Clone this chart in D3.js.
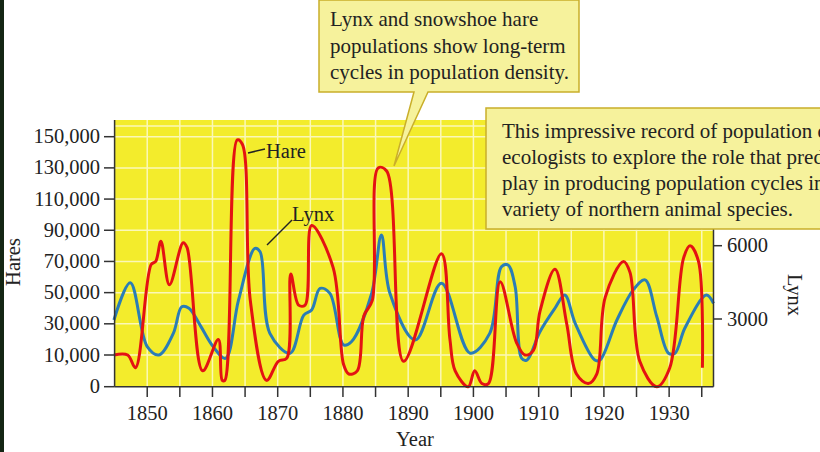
<!DOCTYPE html>
<html><head><meta charset="utf-8">
<script src="https://cdn.jsdelivr.net/npm/d3@7"></script>
<style>body{margin:0;background:#fff}svg{display:block}</style>
</head><body><svg width="820" height="452"></svg>
<script>
// hare population (thousands) by year
const hareYears = [1844.9,1847,1848.2,1850.6,1851.3,1852.1,1853.4,1855.5,1856.1,1858.5,1860.9,1861.5,1861.9,1863.8,1864.6,1865.8,1868.3,1870.1,1871.4,1872,1873.2,1874.2,1875.2,1878.5,1880.1,1880.9,1882.2,1883.2,1884.5,1885.4,1886.7,1889.3,1895.1,1896.4,1897.2,1899.2,1900.2,1901.3,1902.3,1904.1,1906.6,1907.9,1909.2,1910.2,1912.5,1914.3,1915.8,1917.6,1918.9,1920.2,1923,1924,1925.5,1928.1,1930.1,1932.2,1933.2,1934.5,1935.1];
const hareValues = [10,10,6,68,70,83,55,82,79,5,20,2,2,148,145,45,2,8,9,62,42,42,93,66,7,4,5,35,45,130,128,8,75,20,5,0,5,1,1,57,18,10,13,38,65,30,4,1,4,47,70,63,8,0,6,72,80,70,6];
// lynx population by year
const lynxYears = [1844.9,1847.4,1850,1851.8,1854,1855.3,1856.4,1858.1,1860.1,1862,1864,1866.5,1867.3,1868.8,1871.9,1874,1875.2,1876.5,1878,1880.1,1881.3,1884.4,1885.9,1887.2,1891.1,1895.1,1899.5,1902.5,1904.3,1905.3,1906.4,1907.4,1908.2,1910.2,1912.5,1914.0,1915.6,1918.6,1919.4,1922,1924.5,1926.3,1928.1,1929.9,1930.9,1932.4,1935.7,1936.8];
const lynxValues = [2960,4480,1870,1530,2410,3500,3440,2750,1870,1390,3780,5890,5750,2410,1600,3160,3370,4250,4050,1940,2070,4050,6440,4050,2140,4460,1600,2410,5140,5210,4320,1390,1320,2480,3440,3980,2820,1320,1320,2960,4190,4600,3100,1600,1600,2620,3980,3640];
const hareTicks = [0,10,30,50,70,90,110,130,150];
const lynxTicks = [3000,6000];
const yearTicks = d3.range(1845, 1940, 5);
const note1 = ["Lynx and snowshoe hare", "populations show long-term", "cycles in population density."];
const note2 = ["This impressive record of population data has allowed", "ecologists to explore the role that predators may",
  "play in producing population cycles in a", "variety of northern animal species."];

const svg = d3.select("svg");
const x = d3.scaleLinear().domain([1845, 1936.8]).range([114.6, 713.5]);
// the left axis in the figure is uneven: 0 -> 10,000 takes the same step as 20,000
const yH = d3.scaleLinear().domain([0, 10, 150]).range([386.7, 355, 136.7]);
const yL = d3.scaleLinear().domain([0, 6000]).range([392.3, 245.7]);

svg.append("rect").attr("x", 0).attr("y", 0).attr("width", 4).attr("height", 452).attr("fill", "#142614");

// plot area
svg.append("rect").attr("x", 114.6).attr("y", 120).attr("width", 599).attr("height", 266.7).attr("fill", "#f3ec2c");
const grid = svg.append("g").attr("stroke", "#fbf8b8").attr("stroke-width", 1.5);
grid.selectAll("line.h").data(hareTicks.slice(1)).join("line")
  .attr("x1", 114.6).attr("x2", 713.5).attr("y1", d => yH(d)).attr("y2", d => yH(d));
grid.selectAll("line.v").data(yearTicks.slice(1)).join("line")
  .attr("x1", d => x(d)).attr("x2", d => x(d)).attr("y1", 120).attr("y2", 386.7);
grid.append("line").attr("x1", 114.6).attr("x2", 713.5).attr("y1", 126).attr("y2", 126);

const line = (xs, ys, yscale) => d3.line().x((d, i) => x(xs[i])).y(d => yscale(d)).curve(d3.curveCatmullRom.alpha(0.5))(ys);
svg.append("path").attr("d", line(lynxYears, lynxValues, yL)).attr("fill", "none").attr("stroke", "#2a7db6").attr("stroke-width", 3);
svg.append("path").attr("d", line(hareYears, hareValues, yH)).attr("fill", "none").attr("stroke", "#e41212").attr("stroke-width", 3);

// axes
const axisG = svg.append("g").attr("stroke", "#333").attr("stroke-width", 1.5);
axisG.append("line").attr("x1", 114.6).attr("x2", 114.6).attr("y1", 120).attr("y2", 386.7);
axisG.append("line").attr("x1", 114.6).attr("x2", 713.5).attr("y1", 386.7).attr("y2", 386.7);
axisG.append("line").attr("x1", 713.5).attr("x2", 713.5).attr("y1", 225).attr("y2", 386.7);
axisG.selectAll("line.ht").data(hareTicks).join("line").attr("x1", 104).attr("x2", 114.6).attr("y1", d => yH(d)).attr("y2", d => yH(d));
axisG.selectAll("line.xt").data(yearTicks.slice(1)).join("line").attr("x1", d => x(d)).attr("x2", d => x(d)).attr("y1", 386.7).attr("y2", 397);
axisG.selectAll("line.lt").data(lynxTicks).join("line").attr("x1", 713.5).attr("x2", 722).attr("y1", d => yL(d)).attr("y2", d => yL(d));

// callouts
const boxFill = "#f6f29c", boxStroke = "#c9ae2a";
svg.append("path").attr("d", "M319,0 L579,0 L579,92 L428,92 L394,166 L414,92 L319,92 Z")
  .attr("fill", boxFill).attr("stroke", boxStroke).attr("stroke-width", 1.5);
svg.append("rect").attr("x", 486).attr("y", 108).attr("width", 340).attr("height", 121)
  .attr("fill", boxFill).attr("stroke", boxStroke).attr("stroke-width", 1.5);

const txt = svg.append("g").attr("fill", "#222").attr("font-size", 20.5)
  .attr("font-family", "'Liberation Serif', 'DejaVu Serif', serif");
txt.selectAll("text.h").data(hareTicks).join("text").attr("x", 100).attr("y", d => yH(d) + 6.5).attr("text-anchor", "end")
  .text(d => d3.format(",")(d * 1000));
txt.selectAll("text.x").data(yearTicks.filter(d => d % 10 === 0)).join("text").attr("x", d => x(d)).attr("y", 420).attr("text-anchor", "middle").text(d => d);
txt.selectAll("text.l").data(lynxTicks).join("text").attr("x", 727).attr("y", d => yL(d) + 6.5).text(d => d);
txt.append("text").attr("x", 415).attr("y", 446).attr("text-anchor", "middle").text("Year");
txt.append("text").attr("transform", "translate(20,262) rotate(-90)").attr("text-anchor", "middle").text("Hares");
txt.append("text").attr("transform", "translate(788,295) rotate(90)").attr("text-anchor", "middle").text("Lynx");

// series labels
svg.append("line").attr("x1", 248).attr("y1", 153).attr("x2", 265).attr("y2", 149).attr("stroke", "#222").attr("stroke-width", 1.5);
txt.append("text").attr("x", 266).attr("y", 158).text("Hare");
svg.append("line").attr("x1", 267).attr("y1", 245).attr("x2", 292).attr("y2", 220).attr("stroke", "#222").attr("stroke-width", 1.5);
txt.append("text").attr("x", 292).attr("y", 221).text("Lynx");

note1.forEach((s, i) => txt.append("text").attr("x", 330).attr("y", 26 + i * 26.5).attr("font-size", 21).text(s));
note2.forEach((s, i) => txt.append("text").attr("x", 502).attr("y", 138 + i * 26).attr("font-size", 21).text(s));
</script></body></html>
